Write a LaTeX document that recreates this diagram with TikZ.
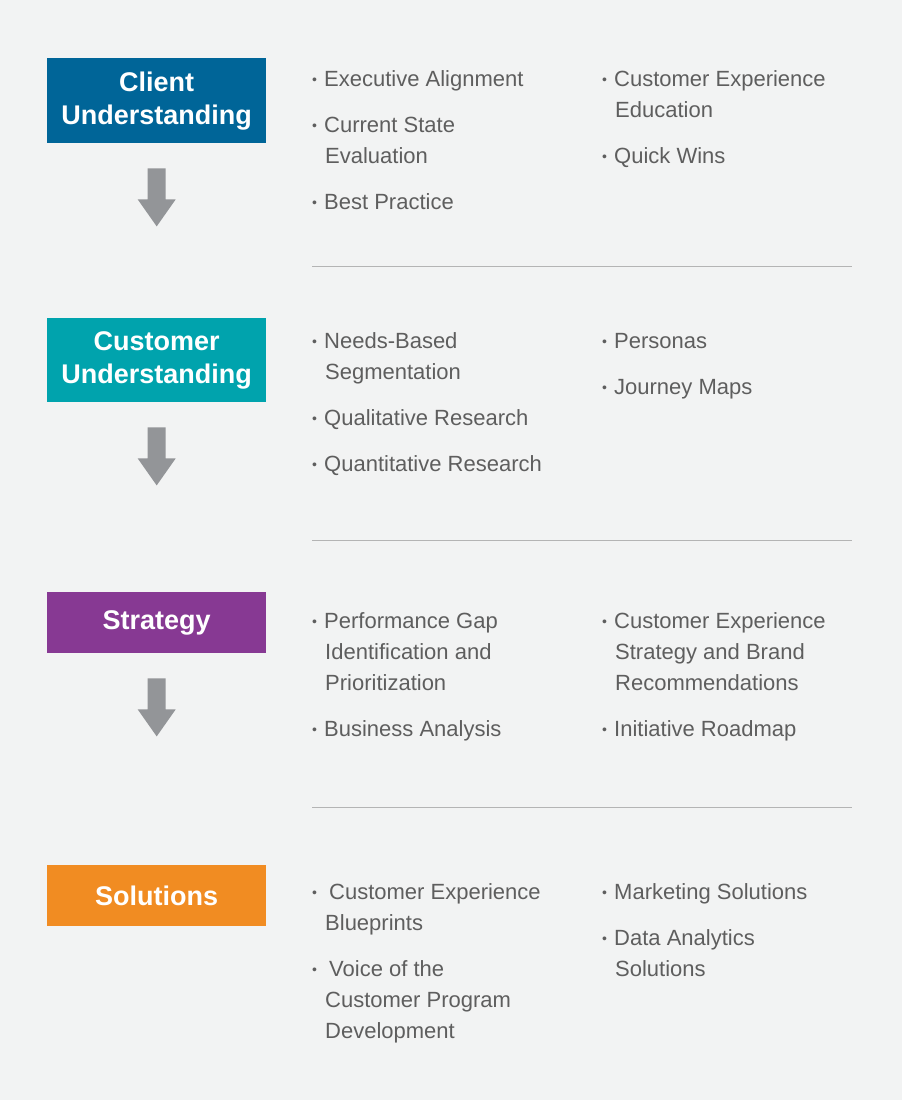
\documentclass[tikz,border=0pt]{standalone}
\usepackage{fontspec}
\setmainfont{Liberation Sans}
\usetikzlibrary{calc}
\definecolor{bg}{HTML}{F2F3F3}
\definecolor{cblue}{HTML}{006598}
\definecolor{cteal}{HTML}{00A3AD}
\definecolor{cpurple}{HTML}{873993}
\definecolor{corange}{HTML}{F18C22}
\definecolor{arrowgray}{HTML}{939598}
\definecolor{linegray}{HTML}{B4B4B4}
\definecolor{textgray}{HTML}{5E5E5E}
\newcommand\bul{\makebox[12pt][l]{\fontsize{14}{14}\selectfont\raisebox{1.5pt}{•}}}
\newcommand\ind{\hspace*{13pt}}
\newcommand\blockarrow[1]{\fill[arrowgray] ($(#1.south)+(-9,25)$) -- ++(18,0) -- ++(0,31) -- ++(10,0) -- ++(-19,27) -- ++(-19,-27) -- ++(10,0) -- cycle;}
\tikzset{
  stage/.style={fill=#1, text=white, anchor=north west, minimum width=219pt, inner sep=0pt,
    align=center, font=\fontsize{27}{33}\selectfont\bfseries},
  item/.style={anchor=north west, inner sep=0pt, align=left, text=textgray,
    font=\fontsize{22}{31}\selectfont},
  sepline/.style={draw=linegray, line width=1pt}
}
\newcommand\st{\rule{0pt}{20pt}}
\begin{document}
\begin{tikzpicture}[x=1pt,y=-1pt]
\fill[bg] (0,0) rectangle (902,1100);
\useasboundingbox (0,0) rectangle (902,1100);

% stage boxes
\node[stage=cblue, minimum height=85pt] (s1) at (47,58) {Client\\Understanding};
\node[stage=cteal, minimum height=84pt] (s2) at (47,318) {Customer\\Understanding};
\node[stage=cpurple, minimum height=61pt] (s3) at (47,592) {Strategy};
\node[stage=corange, minimum height=61pt] (s4) at (47,865) {Solutions};

% arrows
\blockarrow{s1}
\blockarrow{s2}
\blockarrow{s3}

% separators
\draw[sepline] (312,266) -- (852,266);
\draw[sepline] (312,540) -- (852,540);
\draw[sepline] (312,807) -- (852,807);

% section 1
\node[item] (a1) at (312,66) {\st\bul Executive Alignment};
\node[item] (a2) at (312,112) {\st\bul Current State\\\ind Evaluation};
\node[item] (a3) at (312,189) {\st\bul Best Practice};
\node[item] (a4) at (602,66) {\st\bul Customer Experience\\\ind Education};
\node[item] (a5) at (602,143) {\st\bul Quick Wins};

% section 2
\node[item] (b1) at (312,328) {\st\bul Needs-Based\\\ind Segmentation};
\node[item] (b2) at (312,405) {\st\bul Qualitative Research};
\node[item] (b3) at (312,451) {\st\bul Quantitative Research};
\node[item] (b4) at (602,328) {\st\bul Personas};
\node[item] (b5) at (602,374) {\st\bul Journey Maps};

% section 3
\node[item] (c1) at (312,608) {\st\bul Performance Gap\\\ind Identification and\\\ind Prioritization};
\node[item] (c2) at (312,716) {\st\bul Business Analysis};
\node[item] (c3) at (602,608) {\st\bul Customer Experience\\\ind Strategy and Brand\\\ind Recommendations};
\node[item] (c4) at (602,716) {\st\bul Initiative Roadmap};

% section 4
\node[item] (d1) at (312,879) {\st\bul\hspace{5pt}Customer Experience\\\ind Blueprints};
\node[item] (d2) at (312,956) {\st\bul\hspace{5pt}Voice of the\\\ind Customer Program\\\ind Development};
\node[item] (d3) at (602,879) {\st\bul Marketing Solutions};
\node[item] (d4) at (602,925) {\st\bul Data Analytics\\\ind Solutions};
\end{tikzpicture}
\end{document}
